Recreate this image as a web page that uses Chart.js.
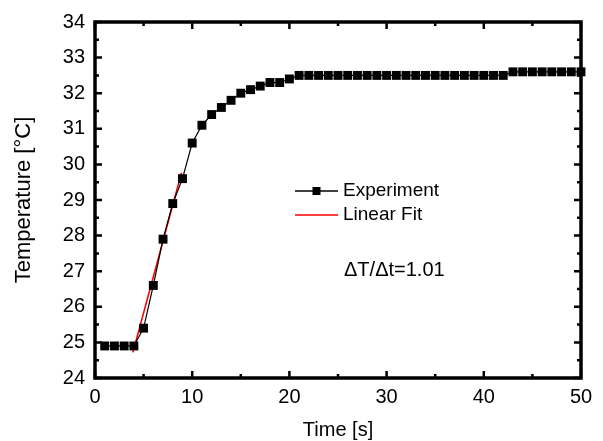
<!DOCTYPE html>
<html>
<head>
<meta charset="utf-8">
<script src="https://cdn.jsdelivr.net/npm/chart.js@4/dist/chart.umd.min.js"></script>
<style>
  html, body { margin: 0; padding: 0; background: #fff; }
</style>
</head>
<body>
<canvas id="tempChart" width="603" height="441"></canvas>
<script>
// measured temperature, one reading per second
const times = [1, 2, 3, 4, 5, 6, 7, 8, 9, 10, 11, 12, 13, 14, 15, 16, 17, 18, 19, 20,
    21, 22, 23, 24, 25, 26, 27, 28, 29, 30, 31, 32, 33, 34, 35, 36, 37, 38, 39, 40,
    41, 42, 43, 44, 45, 46, 47, 48, 49, 50];
const temps = [24.9, 24.9, 24.9, 24.9, 25.4, 26.6, 27.9, 28.9, 29.6, 30.6,
    31.1, 31.4, 31.6, 31.8, 32.0, 32.1, 32.2, 32.3, 32.3, 32.4,
    32.5, 32.5, 32.5, 32.5, 32.5, 32.5, 32.5, 32.5, 32.5, 32.5,
    32.5, 32.5, 32.5, 32.5, 32.5, 32.5, 32.5, 32.5, 32.5, 32.5,
    32.5, 32.5, 32.6, 32.6, 32.6, 32.6, 32.6, 32.6, 32.6, 32.6];

// linear fit over the rising part
const fitTimes = [3.9, 8.9];
const fitTemps = [24.72, 29.77];

const xRange = [0, 50];
const yRange = [24, 34];
const slopeLabel = 'ΔT/Δt=1.01';

const FONT = '"Liberation Sans", Arial, sans-serif';
Chart.defaults.font.family = FONT;
Chart.defaults.color = '#000';

// box frame with inward ticks on all four sides, plus legend and note
const frameTicks = {
    id: 'frameTicks',
    afterDraw(chart) {
        const {ctx, chartArea: a} = chart;
        const x = chart.scales.x, y = chart.scales.y;
        ctx.save();
        ctx.strokeStyle = '#000';
        ctx.lineWidth = 2.5;
        ctx.beginPath();
        for (let v = xRange[0]; v <= xRange[1]; v += 5) {
            const px = x.getPixelForValue(v);
            const len = v % 10 === 0 ? 7 : 4;
            ctx.moveTo(px, a.bottom); ctx.lineTo(px, a.bottom - len);
            ctx.moveTo(px, a.top); ctx.lineTo(px, a.top + len);
        }
        for (let v = yRange[0]; v <= yRange[1]; v += 0.5) {
            const py = y.getPixelForValue(v);
            const len = v % 1 === 0 ? 7 : 4;
            ctx.moveTo(a.left, py); ctx.lineTo(a.left + len, py);
            ctx.moveTo(a.right, py); ctx.lineTo(a.right - len, py);
        }
        ctx.stroke();
        ctx.lineWidth = 3.5;
        ctx.beginPath();
        ctx.rect(a.left, a.top, a.right - a.left, a.bottom - a.top);
        ctx.stroke();

        // legend
        const lx = 295, lw = 43, tx = 343;
        ctx.font = '19px ' + FONT;
        ctx.textBaseline = 'middle';
        ctx.textAlign = 'left';
        chart.data.datasets.forEach((ds, i) => {
            const ly = 191 + i * 24;
            ctx.strokeStyle = ds.borderColor;
            ctx.lineWidth = 1.3;
            ctx.beginPath();
            ctx.moveTo(lx, ly); ctx.lineTo(lx + lw, ly);
            ctx.stroke();
            if (ds.pointRadius > 0) {
                ctx.fillStyle = ds.pointBackgroundColor;
                ctx.fillRect(lx + lw / 2 - 4, ly - 4, 8, 8);
            }
            ctx.fillStyle = '#000';
            ctx.fillText(ds.label, tx, ly);
        });

        ctx.font = '20px ' + FONT;
        ctx.fillText(slopeLabel, 344, 270);
        ctx.restore();
    }
};

new Chart(document.getElementById('tempChart'), {
    type: 'line',
    data: {
        datasets: [{
            label: 'Experiment',
            data: times.map((t, i) => ({x: t, y: temps[i]})),
            borderColor: '#000',
            borderWidth: 1.2,
            pointStyle: 'rect',
            pointRadius: 6.3,
            pointBackgroundColor: '#000',
            pointBorderWidth: 0,
            clip: false
        }, {
            label: 'Linear Fit',
            data: fitTimes.map((t, i) => ({x: t, y: fitTemps[i]})),
            borderColor: '#ff0000',
            borderWidth: 1.6,
            pointRadius: 0
        }]
    },
    options: {
        responsive: false,
        animation: false,
        layout: {padding: {top: 20, right: 22, left: 0, bottom: 0}},
        plugins: {legend: {display: false}, tooltip: {enabled: false}},
        scales: {
            x: {
                type: 'linear', min: xRange[0], max: xRange[1],
                grid: {display: false, drawTicks: false}, border: {display: false},
                ticks: {stepSize: 10, padding: 7, font: {size: 20}},
                title: {display: true, text: 'Time [s]', font: {size: 20}, padding: {bottom: -1}},
                afterFit(scale) { scale.height = 63; }
            },
            y: {
                type: 'linear', min: yRange[0], max: yRange[1],
                grid: {display: false, drawTicks: false}, border: {display: false},
                ticks: {stepSize: 1, padding: 10, font: {size: 20}},
                title: {display: true, text: 'Temperature [°C]', font: {size: 22}, padding: {top: 11}},
                afterFit(scale) { scale.width = 95; }
            }
        }
    },
    plugins: [frameTicks]
});
</script>
</body>
</html>
